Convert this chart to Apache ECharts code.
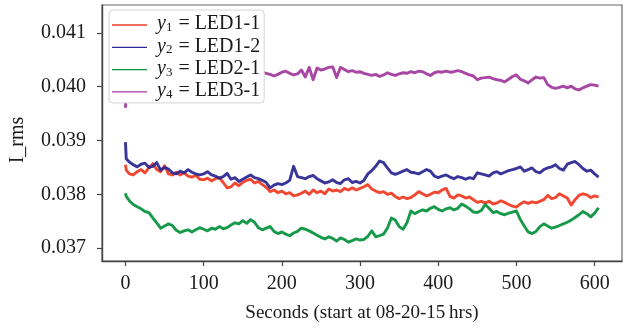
<!DOCTYPE html>
<html>
<head>
<meta charset="utf-8">
<script src="https://cdn.jsdelivr.net/npm/echarts@6/dist/echarts.min.js"></script>
<style>
html,body{margin:0;padding:0;background:#fff;}
#chart{width:624px;height:330px;}
</style>
</head>
<body>
<div id="chart"></div>
<script>
var seconds = [0,1,
5,10,15,20,25,30,35,40,45,50,
55,60,65,70,75,80,85,90,95,100,
105,110,115,120,125,130,135,140,145,150,
155,160,165,170,175,180,185,190,195,200,
205,210,215,220,225,230,235,240,245,250,
255,260,265,270,275,280,285,290,295,300,
305,310,315,320,325,330,335,340,345,350,
355,360,365,370,375,380,385,390,395,400,
405,410,415,420,425,430,435,440,445,450,
455,460,465,470,475,480,485,490,495,500,
505,510,515,520,525,530,535,540,545,550,
555,560,565,570,575,580,585,590,595,600,
605];

var y1 = [0.03855,0.03845,
0.03838,0.03836,0.03842,0.03846,0.03840,0.03849,0.03857,0.03846,0.03842,0.03853,
0.03838,0.03836,0.03841,0.03836,0.03840,0.03834,0.03832,0.03835,0.03828,0.03827,
0.03830,0.03825,0.03829,0.03831,0.03822,0.03812,0.03814,0.03821,0.03816,0.03822,
0.03826,0.03828,0.03821,0.03824,0.03818,0.03813,0.03805,0.03808,0.03803,0.03806,
0.03801,0.03803,0.03797,0.03799,0.03802,0.03806,0.03800,0.03808,0.03803,0.03806,
0.03801,0.03810,0.03806,0.03808,0.03805,0.03811,0.03808,0.03812,0.03808,0.03811,
0.03814,0.03818,0.03810,0.03806,0.03803,0.03805,0.03800,0.03802,0.03796,0.03792,
0.03795,0.03792,0.03794,0.03799,0.03805,0.03801,0.03797,0.03800,0.03804,0.03803,
0.03808,0.03811,0.03796,0.03793,0.03799,0.03797,0.03793,0.03795,0.03790,0.03785,
0.03787,0.03784,0.03787,0.03782,0.03784,0.03788,0.03785,0.03781,0.03778,0.03776,
0.03782,0.03786,0.03783,0.03786,0.03784,0.03787,0.03790,0.03798,0.03792,0.03794,
0.03801,0.03797,0.03793,0.03780,0.03790,0.03798,0.03801,0.03799,0.03794,0.03797,
0.03795];

var y2 = [0.03897,0.03866,
0.03860,0.03855,0.03851,0.03856,0.03858,0.03850,0.03852,0.03859,0.03845,0.03850,
0.03847,0.03840,0.03838,0.03843,0.03840,0.03846,0.03841,0.03838,0.03836,0.03838,
0.03842,0.03836,0.03834,0.03830,0.03833,0.03839,0.03828,0.03831,0.03824,0.03828,
0.03832,0.03836,0.03831,0.03829,0.03826,0.03822,0.03812,0.03817,0.03820,0.03818,
0.03821,0.03826,0.03852,0.03833,0.03831,0.03829,0.03833,0.03835,0.03829,0.03825,
0.03821,0.03823,0.03827,0.03822,0.03820,0.03827,0.03829,0.03822,0.03824,0.03821,
0.03826,0.03838,0.03844,0.03852,0.03862,0.03859,0.03849,0.03840,0.03837,0.03840,
0.03843,0.03846,0.03841,0.03840,0.03838,0.03842,0.03846,0.03843,0.03834,0.03831,
0.03834,0.03836,0.03832,0.03829,0.03833,0.03831,0.03828,0.03831,0.03829,0.03840,
0.03838,0.03836,0.03834,0.03840,0.03842,0.03838,0.03841,0.03844,0.03846,0.03848,
0.03851,0.03843,0.03846,0.03849,0.03842,0.03840,0.03846,0.03849,0.03851,0.03855,
0.03848,0.03845,0.03856,0.03859,0.03861,0.03855,0.03848,0.03843,0.03845,0.03838,
0.03832];

var y3 = [0.03802,0.03796,
0.03788,0.03781,0.03777,0.03773,0.03768,0.03766,0.03756,0.03747,0.03737,0.03741,
0.03745,0.03742,0.03733,0.03729,0.03732,0.03734,0.03730,0.03734,0.03738,0.03735,
0.03732,0.03737,0.03735,0.03740,0.03736,0.03738,0.03743,0.03747,0.03745,0.03751,
0.03746,0.03753,0.03748,0.03738,0.03734,0.03737,0.03740,0.03731,0.03727,0.03730,
0.03726,0.03723,0.03728,0.03731,0.03737,0.03735,0.03732,0.03728,0.03724,0.03720,
0.03717,0.03721,0.03718,0.03713,0.03719,0.03716,0.03711,0.03714,0.03717,0.03715,
0.03716,0.03722,0.03732,0.03721,0.03723,0.03726,0.03737,0.03756,0.03752,0.03740,
0.03735,0.03747,0.03769,0.03764,0.03768,0.03771,0.03769,0.03774,0.03777,0.03772,
0.03769,0.03773,0.03775,0.03771,0.03774,0.03782,0.03778,0.03773,0.03767,0.03766,
0.03770,0.03781,0.03774,0.03766,0.03768,0.03764,0.03762,0.03765,0.03767,0.03769,
0.03753,0.03741,0.03730,0.03727,0.03731,0.03740,0.03745,0.03741,0.03737,0.03739,
0.03742,0.03745,0.03748,0.03752,0.03757,0.03762,0.03768,0.03764,0.03758,0.03765,
0.03775];

var y4 = [0.03961,0.04015,
0.04020,0.04024,0.04019,0.04023,0.04027,0.04021,0.04025,0.04022,0.04026,0.04020,
0.04024,0.04028,0.04022,0.04025,0.04019,0.04024,0.04027,0.04021,0.04025,0.04022,
0.04026,0.04023,0.04020,0.04025,0.04028,0.04022,0.04024,0.04020,0.04026,0.04023,
0.04027,0.04021,0.04025,0.04022,0.04027,0.04025,0.04023,0.04020,0.04023,0.04027,
0.04029,0.04025,0.04022,0.04024,0.04031,0.04018,0.04036,0.04013,0.04035,0.04031,
0.04033,0.04036,0.04037,0.04017,0.04036,0.04032,0.04028,0.04030,0.04027,0.04028,
0.04025,0.04023,0.04021,0.04023,0.04019,0.04022,0.04026,0.04023,0.04021,0.04024,
0.04026,0.04025,0.04028,0.04026,0.04029,0.04028,0.04024,0.04021,0.04026,0.04028,
0.04027,0.04029,0.04027,0.04028,0.04030,0.04028,0.04025,0.04022,0.04020,0.04013,
0.04016,0.04017,0.04018,0.04015,0.04013,0.04012,0.04009,0.04014,0.04019,0.04022,
0.04014,0.04011,0.04007,0.04013,0.04018,0.04016,0.04017,0.04004,0.03999,0.03997,
0.03999,0.04001,0.03998,0.04001,0.03996,0.03994,0.03998,0.04001,0.04004,0.04003,
0.04001];

var seriesNames = ['LED1-1', 'LED1-2', 'LED2-1', 'LED3-1'];
var seriesColors = ['#f03e26', '#2e2a94', '#0b9440', '#a23c9e'];
var xTicks = [0, 100, 200, 300, 400, 500, 600];
var yTicks = [0.037, 0.038, 0.039, 0.040, 0.041];
var xLabel = 'Seconds (start at 08-20-15\u2009hrs)';
var yLabel = 'I_rms';

var FONT = '"Liberation Serif", "DejaVu Serif", serif';
var allY = [y1, y2, y3, y4];

var chart = echarts.init(document.getElementById('chart'), null, {renderer: 'canvas'});

var series = allY.map(function (arr, k) {
  return {
    name: seriesNames[k],
    type: 'line',
    showSymbol: false,
    symbol: 'none',
    animation: false,
    data: seconds.map(function (s, i) { return [s, arr[i]]; }),
    lineStyle: {width: 2.9, color: seriesColors[k], join: 'round', opacity: 0.95},
    itemStyle: {color: seriesColors[k]},
    z: 2
  };
});

chart.setOption({
  animation: false,
  backgroundColor: '#fff',
  grid: {left: 101, top: 5, right: 2, bottom: 69, show: true, borderColor: '#666', borderWidth: 1.2, backgroundColor: 'transparent'},
  legend: {
    orient: 'vertical',
    left: 109, top: 10,
    icon: 'rect',
    itemWidth: 35, itemHeight: 1.3,
    itemGap: 2.3,
    padding: [4, 4, 2, 3],
    backgroundColor: '#fff',
    borderColor: '#d4d4d4', borderWidth: 1, borderRadius: 4,
    data: seriesNames,
    formatter: function (name) {
      var k = seriesNames.indexOf(name) + 1;
      return '{i|y}{s|' + k + '}{t| = ' + name + '}';
    },
    textStyle: {
      fontFamily: FONT, fontSize: 20, color: '#1a1a1a', padding: [0, 0, 0, 5],
      rich: {
        i: {fontFamily: FONT, fontStyle: 'italic', fontSize: 20, color: '#1a1a1a', lineHeight: 18, verticalAlign: 'bottom'},
        s: {fontFamily: FONT, fontSize: 13, color: '#1a1a1a', lineHeight: 18, verticalAlign: 'bottom', padding: [6, 1, 0, 0]},
        t: {fontFamily: FONT, fontSize: 20, color: '#1a1a1a', lineHeight: 18, verticalAlign: 'bottom'}
      }
    }
  },
  xAxis: {
    type: 'value',
    min: -30, max: 635,
    name: xLabel,
    nameLocation: 'middle',
    nameGap: 43,
    nameTextStyle: {fontFamily: FONT, fontSize: 19, color: '#1a1a1a'},
    axisLine: {show: true, onZero: false, lineStyle: {color: '#444', width: 1.4}},
    axisTick: {show: true, length: 5, customValues: xTicks, lineStyle: {color: '#444', width: 1.2}},
    axisLabel: {customValues: xTicks, margin: 13, fontFamily: FONT, fontSize: 20, color: '#1a1a1a'},
    splitLine: {show: false}
  },
  yAxis: {
    type: 'value',
    min: 0.03676, max: 0.04152,
    name: yLabel,
    nameLocation: 'middle',
    nameGap: 74,
    nameRotate: 90,
    nameTextStyle: {fontFamily: FONT, fontSize: 20, color: '#1a1a1a', padding: [0, 0, 0, -14]},
    axisLine: {show: true, onZero: false, lineStyle: {color: '#444', width: 1.4}},
    axisTick: {show: true, length: 5, customValues: yTicks, lineStyle: {color: '#444', width: 1.2}},
    axisLabel: {
      customValues: yTicks, margin: 16, fontFamily: FONT, fontSize: 20, color: '#1a1a1a',
      formatter: function (v) { return v.toFixed(3); }
    },
    splitLine: {show: false}
  },
  series: series
});
</script>
</body>
</html>
